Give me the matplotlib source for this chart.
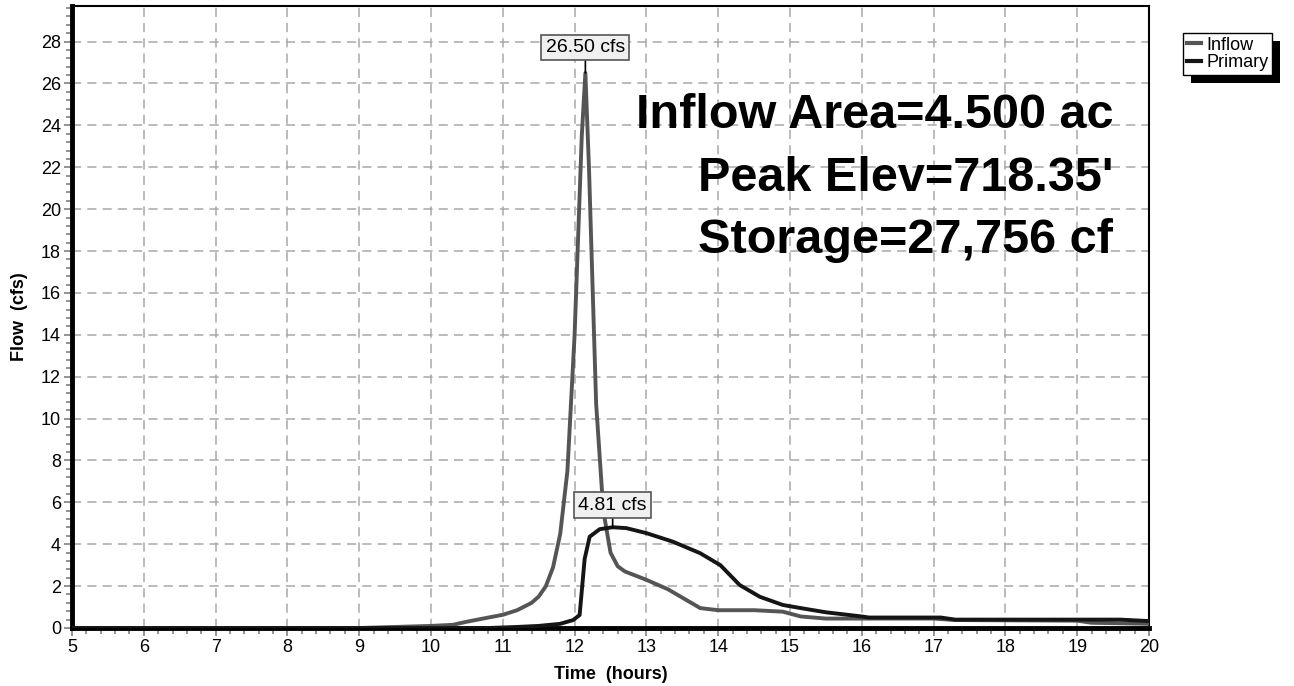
import numpy as np
import matplotlib
matplotlib.use('Agg')
import matplotlib.pyplot as plt
from matplotlib.patches import Rectangle
from matplotlib.ticker import MultipleLocator

plt.rcParams['font.family'] = ['Liberation Sans', 'DejaVu Sans']

# hydrograph values (hours, cfs)
inflow_t = [5.0, 9.0, 9.3, 9.7, 10.0, 10.3, 10.5, 10.8, 11.0, 11.2, 11.4, 11.5, 11.6,
            11.7, 11.8, 11.9, 12.0, 12.1, 12.15, 12.2, 12.3, 12.4, 12.5, 12.6, 12.7,
            13.0, 13.3, 13.5, 13.75, 14.0, 14.5, 14.9, 15.15, 15.5, 16.0, 17.0, 17.3,
            19.0, 19.2, 20.0]
inflow_q = [0.0, 0.0, 0.03, 0.07, 0.1, 0.15, 0.3, 0.5, 0.63, 0.85, 1.2, 1.5, 2.0,
            2.9, 4.5, 7.5, 14.0, 23.5, 26.5, 22.0, 10.7, 5.6, 3.6, 2.95, 2.7,
            2.3, 1.85, 1.45, 0.95, 0.85, 0.85, 0.78, 0.55, 0.45, 0.45, 0.45, 0.38,
            0.35, 0.25, 0.2]

primary_t = [5.0, 10.8, 11.2, 11.5, 11.8, 11.98, 12.07, 12.14, 12.21, 12.35, 12.53,
             12.72, 13.0, 13.37, 13.75, 14.03, 14.3, 14.58, 14.9, 15.15, 15.5, 16.0,
             16.1, 17.1, 17.3, 19.6, 20.0]
primary_q = [0.0, 0.0, 0.05, 0.1, 0.2, 0.38, 0.62, 3.3, 4.36, 4.72, 4.81,
             4.77, 4.53, 4.12, 3.57, 3.0, 2.05, 1.49, 1.1, 0.95, 0.75, 0.55,
             0.5, 0.5, 0.4, 0.4, 0.33]

peak_labels = ['26.50 cfs', '4.81 cfs']
info_lines = ['Inflow Area=4.500 ac', "Peak Elev=718.35'", 'Storage=27,756 cf']

fig = plt.figure(figsize=(12.94, 6.86), dpi=100)
ax = fig.add_axes([72/1294, 1-628/686, (1149-72)/1294, (628-6)/686])

ax.plot(inflow_t, inflow_q, color='#555555', lw=2.8, label='Inflow', zorder=3)
ax.plot(primary_t, primary_q, color='#151515', lw=2.8, label='Primary', zorder=4)

ax.set_xlim(5, 20)
ax.set_ylim(0, 29.7)
ax.xaxis.set_major_locator(MultipleLocator(1))
ax.xaxis.set_minor_locator(MultipleLocator(0.2))
ax.yaxis.set_major_locator(MultipleLocator(2))
ax.yaxis.set_minor_locator(MultipleLocator(0.4))
ax.grid(True, which='major', color='#a8a8a8', ls=(0, (6, 4)), lw=1.1)
ax.tick_params(which='major', length=6, width=1.2, color='#808080', labelsize=13, pad=2)
ax.tick_params(which='minor', length=4, width=1.2, color='#808080')
ax.spines['left'].set_linewidth(3.5)
ax.spines['bottom'].set_linewidth(3.5)
ax.spines['top'].set_linewidth(1.5)
ax.spines['right'].set_linewidth(1.5)
ax.set_xlabel('Time  (hours)', fontsize=13, fontweight='bold', labelpad=7)
ax.set_ylabel('Flow  (cfs)', fontsize=13, fontweight='bold', labelpad=9)

# peak callouts
box = dict(boxstyle='square,pad=0.22', fc='#f0f0f0', ec='#555555', lw=1.2)
ax.annotate(peak_labels[0], xy=(12.15, 26.5), xytext=(12.15, 27.72), ha='center', va='center',
            fontsize=14, bbox=box, arrowprops=dict(arrowstyle='-', color='black', lw=1.2,
                                                   shrinkA=0, shrinkB=0), zorder=6)
ax.annotate(peak_labels[1], xy=(12.53, 4.81), xytext=(12.53, 5.87), ha='center', va='center',
            fontsize=14, bbox=box, arrowprops=dict(arrowstyle='-', color='black', lw=1.2,
                                                   shrinkA=0, shrinkB=0), zorder=6)

for i, ypos in enumerate([0.804, 0.703, 0.603]):
    ax.text(0.9666, ypos, info_lines[i], transform=ax.transAxes, ha='right', va='baseline',
            fontsize=35, fontweight='bold', zorder=7)

leg = fig.legend(loc='upper left', bbox_to_anchor=(1183/1294, 1-33/686), fontsize=13,
                 frameon=True, fancybox=False, edgecolor='black', framealpha=1,
                 handlelength=0.8, handletextpad=0.3, borderpad=0.2, labelspacing=0.02,
                 borderaxespad=0)
leg.get_frame().set_linewidth(1.0)
for h in leg.get_lines():
    h.set_linewidth(3)
fig.canvas.draw()
bb = leg.get_window_extent()
fig.patches.append(Rectangle((bb.x0 + 8, bb.y0 - 8), bb.width, bb.height, transform=None,
                             facecolor='black', edgecolor='none', zorder=4))

fig.savefig('out.png', dpi=100)
